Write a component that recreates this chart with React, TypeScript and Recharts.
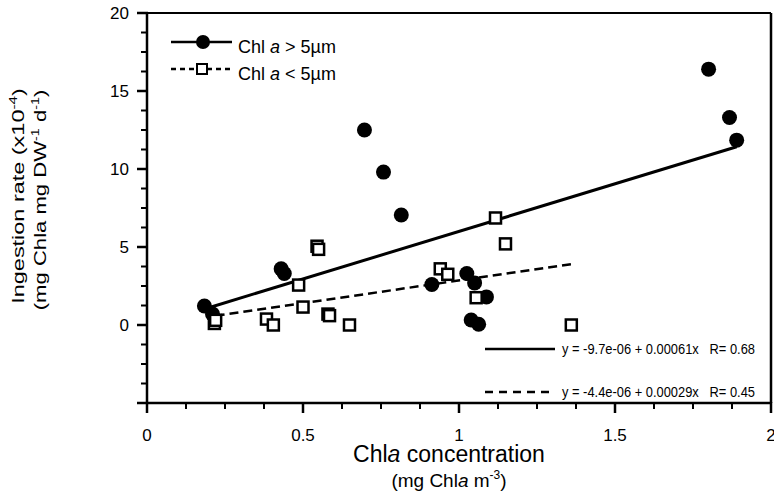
import { ScatterChart, Scatter, XAxis, YAxis, ReferenceLine, Legend, Label } from "recharts"

const FONT = "'Liberation Sans', Arial, sans-serif"

// Chl a > 5µm (filled circles)
const largeConc = [0.184, 0.21, 0.43, 0.44, 0.697, 0.758, 0.815, 0.913, 1.025, 1.039, 1.05, 1.063, 1.088, 1.8, 1.867, 1.89]
const largeRate = [1.22, 0.7, 3.6, 3.3, 12.5, 9.8, 7.05, 2.6, 3.3, 0.32, 2.7, 0.05, 1.8, 16.4, 13.3, 11.85]

// Chl a < 5µm (open squares)
const smallConc = [0.216, 0.22, 0.383, 0.405, 0.486, 0.5, 0.545, 0.55, 0.58, 0.585, 0.649, 0.94, 0.964, 1.055, 1.117, 1.149, 1.36]
const smallRate = [0.1, 0.3, 0.38, 0.0, 2.56, 1.15, 5.05, 4.85, 0.7, 0.6, 0.0, 3.6, 3.25, 1.75, 6.86, 5.2, 0.0]

// regression line end points
const fitLargeConc = [0.19, 1.89]
const fitLargeRate = [1.06, 11.43]
const fitSmallConc = [0.22, 1.36]
const fitSmallRate = [0.59, 3.9]

const xTicks = [0, 0.125, 0.25, 0.375, 0.5, 0.625, 0.75, 0.875, 1, 1.125, 1.25, 1.375, 1.5, 1.625, 1.75, 1.875, 2]
const xLabelled = [0, 0.5, 1, 1.5, 2]
const yTicks = [-5, -3.75, -2.5, -1.25, 0, 1.25, 2.5, 3.75, 5, 6.25, 7.5, 8.75, 10, 11.25, 12.5, 13.75, 15, 16.25, 17.5, 18.75, 20]
const yLabelled = [0, 5, 10, 15, 20]

const eqLarge = "y = -9.7e-06 + 0.00061x   R= 0.68"
const eqSmall = "y = -4.4e-06 + 0.00029x   R= 0.45"

const zip = (xs: number[], ys: number[]) => xs.map((x, i) => ({ x, y: ys[i] }))

const large = zip(largeConc, largeRate)
const small = zip(smallConc, smallRate)
const fitLarge = zip(fitLargeConc, fitLargeRate)
const fitSmall = zip(fitSmallConc, fitSmallRate)

function XTick({ x, y, payload }: any) {
  const major = xLabelled.includes(payload.value)
  return (
    <g>
      <line x1={x} x2={x} y1={y - 1} y2={y + (major ? 10 : 6)} stroke="#000" strokeWidth={major ? 2.5 : 2} />
      {major && (
        <text x={x} y={y + 38} textAnchor="middle" fontSize={17} fontFamily={FONT} fill="#000">
          {payload.value}
        </text>
      )}
    </g>
  )
}

function YTick({ x, y, payload }: any) {
  const v = payload.value
  const major = v % 5 === 0
  return (
    <g>
      <line x1={x + 1} x2={x - (major ? 10 : 6)} y1={y} y2={y} stroke="#000" strokeWidth={major ? 2.5 : 2} />
      {yLabelled.includes(v) && (
        <text x={x - 18} y={y + 6} textAnchor="end" fontSize={17} fontFamily={FONT} fill="#000">
          {v}
        </text>
      )}
    </g>
  )
}

const Dot = ({ cx, cy }: any) => <circle cx={cx} cy={cy} r={7.5} fill="#000" />
const Box = ({ cx, cy }: any) => (
  <rect x={cx - 5.5} y={cy - 5.5} width={11} height={11} fill="#fff" stroke="#000" strokeWidth={2.5} />
)
const NoShape = () => <g />

const XTitle = () => (
  <g fontFamily={FONT} fill="#000">
    <text x={449} y={462} textAnchor="middle" fontSize={23}>
      Chl<tspan fontStyle="italic">a</tspan> concentration
    </text>
    <text x={449} y={487} textAnchor="middle" fontSize={19}>
      (mg Chl<tspan fontStyle="italic">a</tspan> m<tspan dy={-8} fontSize={12}>-3</tspan>
      <tspan dy={8}>)</tspan>
    </text>
  </g>
)

const YTitle = () => (
  <g fontFamily={FONT} fill="#000" fontSize={17}>
    <text transform="translate(24,196) rotate(-90) scale(1.38,1)" textAnchor="middle">
      Ingestion rate (x10<tspan dy={-7} fontSize={11}>-4</tspan>
      <tspan dy={7}>)</tspan>
    </text>
    <text transform="translate(46,200) rotate(-90) scale(1.3,1)" textAnchor="middle">
      (mg Chla mg DW<tspan dy={-7} fontSize={11}>-1</tspan>
      <tspan dy={7}> d</tspan>
      <tspan dy={-7} fontSize={11}>-1</tspan>
      <tspan dy={7}>)</tspan>
    </text>
  </g>
)

const renderLegend = () => (
  <svg width={774} height={495} style={{ overflow: "visible" }}>
    <g fontFamily={FONT} fill="#000">
      <line x1={171} x2={232} y1={42} y2={42} stroke="#000" strokeWidth={2.5} />
      <circle cx={203} cy={42} r={7} fill="#000" />
      <text x={238} y={53} fontSize={18}>
        Chl <tspan fontStyle="italic">a</tspan> {">"}  5µm
      </text>
      <line x1={171} x2={232} y1={69} y2={69} stroke="#000" strokeWidth={2.5} strokeDasharray="5 4" />
      <rect x={197} y={64} width={10} height={10} fill="#fff" stroke="#000" strokeWidth={2} />
      <text x={238} y={80} fontSize={18}>
        Chl <tspan fontStyle="italic">a</tspan> {"<"}  5µm
      </text>

      <line x1={485} x2={555} y1={349} y2={349} stroke="#000" strokeWidth={2.5} />
      <text x={562} y={354} fontSize={14} textLength={193} lengthAdjust="spacingAndGlyphs" xmlSpace="preserve">
        {eqLarge}
      </text>
      <line x1={485} x2={555} y1={392} y2={392} stroke="#000" strokeWidth={2.5} strokeDasharray="8 6" />
      <text x={562} y={397} fontSize={14} textLength={193} lengthAdjust="spacingAndGlyphs" xmlSpace="preserve">
        {eqSmall}
      </text>
    </g>
  </svg>
)

export default function App() {
  return (
    <div style={{ position: "absolute", left: 0, top: 0, background: "#fff" }}>
      <ScatterChart width={774} height={495} margin={{ top: 13, right: 3, bottom: 52, left: 87 }}>
        <XAxis
          type="number"
          dataKey="x"
          domain={[0, 2]}
          ticks={xTicks}
          interval={0}
          tick={<XTick />}
          tickLine={false}
          tickSize={0}
          tickMargin={0}
          height={40}
          allowDataOverflow
          axisLine={{ stroke: "#000", strokeWidth: 2.5 }}
        >
          <Label content={<XTitle />} />
        </XAxis>
        <YAxis
          type="number"
          dataKey="y"
          domain={[-5, 20]}
          ticks={yTicks}
          interval={0}
          tick={<YTick />}
          tickLine={false}
          tickSize={0}
          tickMargin={0}
          width={60}
          allowDataOverflow
          axisLine={{ stroke: "#000", strokeWidth: 2.5 }}
        >
          <Label content={<YTitle />} />
        </YAxis>
        <ReferenceLine y={20} stroke="#000" strokeWidth={2} />
        <ReferenceLine x={2} stroke="#000" strokeWidth={2.5} />
        <Legend
          layout="vertical"
          align="center"
          verticalAlign="middle"
          content={renderLegend}
          wrapperStyle={{ position: "absolute", left: 0, top: 0, width: 774, height: 495, pointerEvents: "none" }}
        />
        <Scatter name="Chl a > 5µm" data={large} shape={<Dot />} isAnimationActive={false} />
        <Scatter
          data={fitLarge}
          line={{ stroke: "#000", strokeWidth: 3 }}
          shape={<NoShape />}
          isAnimationActive={false}
        />
        <Scatter
          data={fitSmall}
          line={{ stroke: "#000", strokeWidth: 2.5, strokeDasharray: "9 5" }}
          shape={<NoShape />}
          isAnimationActive={false}
        />
        <Scatter name="Chl a < 5µm" data={small} shape={<Box />} isAnimationActive={false} />
      </ScatterChart>
    </div>
  )
}
